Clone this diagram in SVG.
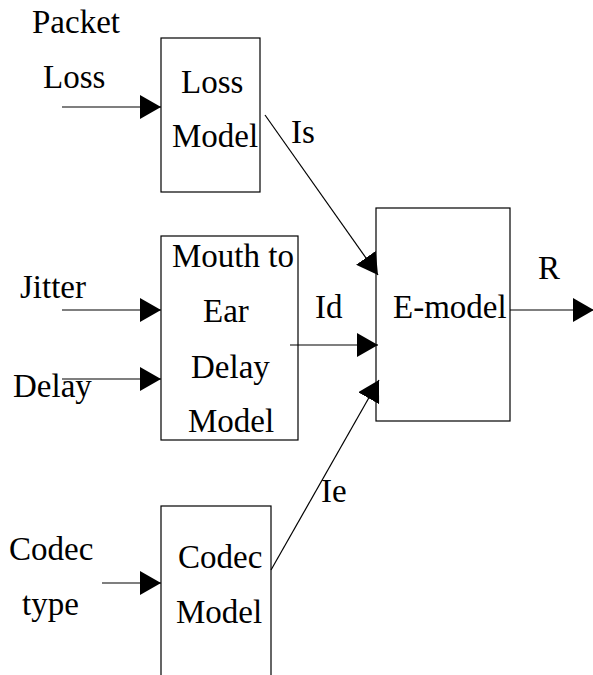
<svg xmlns="http://www.w3.org/2000/svg" width="593" height="675" viewBox="0 0 593 675">
<defs>
<style>
text{font-family:"Liberation Serif","Times New Roman",serif;font-size:33px;fill:#000}
.box{fill:#fff;stroke:#000;stroke-width:1.2}
.ln{stroke:#000;stroke-width:1.2;fill:none}
</style>
<marker id="ah" markerWidth="22" markerHeight="24" refX="21" refY="12" orient="auto" markerUnits="userSpaceOnUse">
<path d="M0,0 L21,12 L0,24 Z" fill="#000"/>
</marker>
</defs>
<rect width="593" height="675" fill="#fff"/>
<g id="input-labels">
<text x="32" y="33">Packet</text>
<text x="43" y="88">Loss</text>
<text x="20" y="298">Jitter</text>
<text x="13" y="397">Delay</text>
<text x="9" y="560">Codec</text>
<text x="22" y="615">type</text>
</g>
<g id="loss-model">
<rect class="box" x="161" y="38" width="99" height="154"/>
<text x="181" y="93">Loss</text>
<text x="172" y="147">Model</text>
</g>
<g id="delay-model">
<rect class="box" x="161" y="236" width="137" height="204"/>
<text x="172" y="267">Mouth to</text>
<text x="203" y="322">Ear</text>
<text x="191" y="378">Delay</text>
<text x="188" y="432">Model</text>
</g>
<g id="codec-model">
<rect class="box" x="161" y="506" width="110" height="200"/>
<text x="178" y="568">Codec</text>
<text x="176" y="623">Model</text>
</g>
<g id="e-model">
<rect class="box" x="376" y="208" width="134" height="213"/>
<text x="393" y="318">E-model</text>
</g>
<g id="connectors">
<line class="ln" x1="62" y1="107" x2="161" y2="107" marker-end="url(#ah)"/>
<line class="ln" x1="62" y1="310" x2="161" y2="310" marker-end="url(#ah)"/>
<line class="ln" x1="62" y1="379" x2="161" y2="379" marker-end="url(#ah)"/>
<line class="ln" x1="102" y1="583" x2="161" y2="583" marker-end="url(#ah)"/>
<line class="ln" x1="265" y1="115" x2="378" y2="275" marker-end="url(#ah)"/>
<line class="ln" x1="290" y1="345" x2="378" y2="345" marker-end="url(#ah)"/>
<line class="ln" x1="271" y1="570" x2="379" y2="380" marker-end="url(#ah)"/>
<line class="ln" x1="510" y1="310" x2="594" y2="310" marker-end="url(#ah)"/>
<text x="291" y="143">Is</text>
<text x="315" y="318">Id</text>
<text x="321" y="502">Ie</text>
<text x="538" y="279">R</text>
</g>
</svg>
